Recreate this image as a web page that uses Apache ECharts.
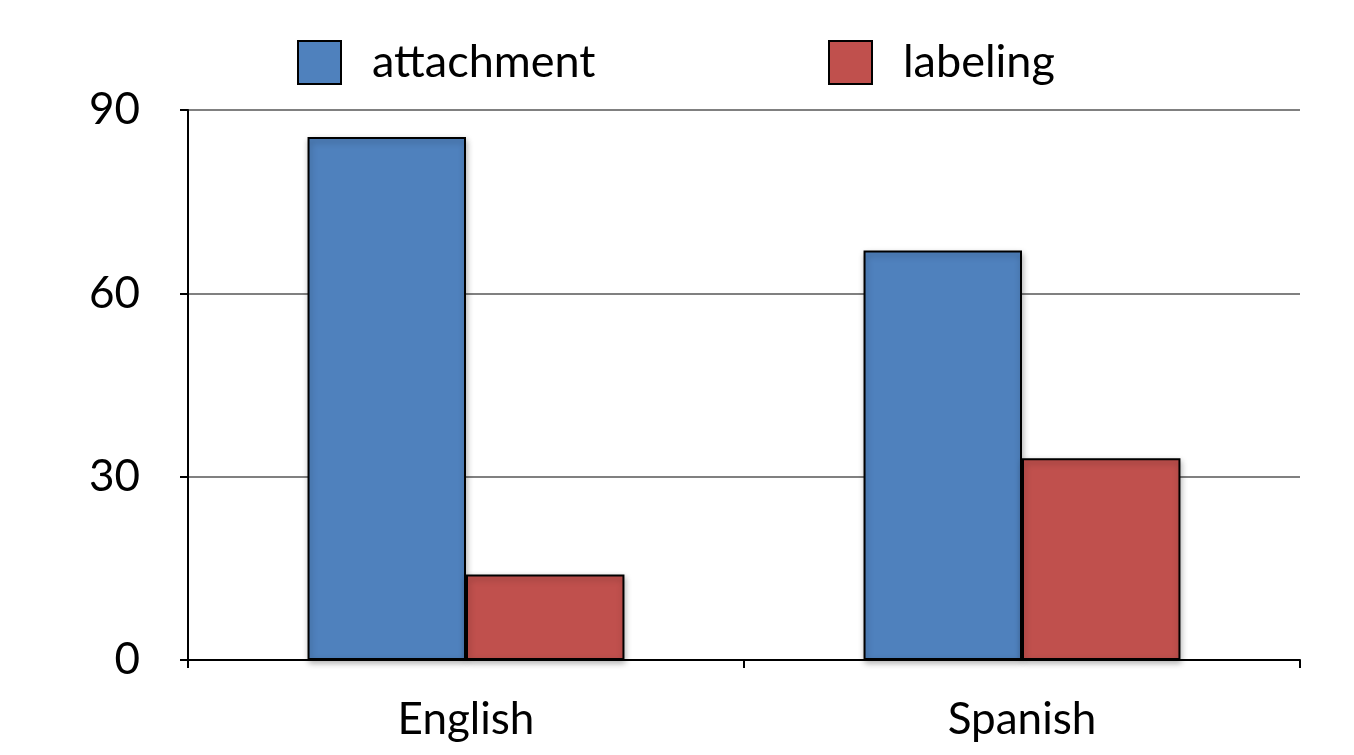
<!DOCTYPE html>
<html>
<head>
<meta charset="utf-8">
<script src="https://cdn.jsdelivr.net/npm/echarts@6/dist/echarts.min.js"></script>
<style>html,body{margin:0;padding:0;background:#fff}#c{width:1354px;height:755px}</style>
</head>
<body>
<div id="c"></div>
<script>
const categories = ['English', 'Spanish'];
const attachment = [85.6, 67];
const labeling = [14, 33];
const yTicks = [0, 30, 60, 90];

const FONT = 'Lato';
const chart = echarts.init(document.getElementById('c'), null, {renderer: 'canvas'});
const barShadow = {shadowBlur: 6, shadowColor: 'rgba(0,0,0,0.3)', shadowOffsetX: 1, shadowOffsetY: 3};
chart.setOption({
  animation: false,
  backgroundColor: '#fff',
  textStyle: {fontFamily: FONT},
  legend: [
    {left: 297, top: 40, padding: 0, icon: 'rect', itemWidth: 43, itemHeight: 43, data: ['attachment'],
     textStyle: {fontFamily: FONT, fontSize: 45, color: '#000', padding: [0, 0, 0, 26]},
     itemStyle: {borderColor: '#000', borderWidth: 2}},
    {left: 828, top: 40, padding: 0, icon: 'rect', itemWidth: 43, itemHeight: 43, data: ['labeling'],
     textStyle: {fontFamily: FONT, fontSize: 45, color: '#000', padding: [0, 0, 0, 26]},
     itemStyle: {borderColor: '#000', borderWidth: 2}}
  ],
  grid: {left: 188, right: 54, top: 110, bottom: 95, containLabel: false},
  xAxis: {
    type: 'category', data: categories,
    axisLine: {show: true, lineStyle: {color: '#000', width: 2}},
    axisTick: {show: true, length: 8, lineStyle: {color: '#000', width: 2}},
    axisLabel: {fontFamily: FONT, fontSize: 44, color: '#000', margin: 38}
  },
  yAxis: {
    type: 'value', min: 0, max: 90, interval: 30,
    axisLine: {show: true, lineStyle: {color: '#000', width: 2}},
    axisTick: {show: true, length: 8, lineStyle: {color: '#000', width: 2}},
    axisLabel: {fontFamily: FONT, fontSize: 44, color: '#000', margin: 48,
      formatter: v => yTicks.includes(v) ? String(v) : ''},
    splitLine: {show: true, lineStyle: {color: '#808080', width: 2}}
  },
  series: [
    {name: 'attachment', type: 'bar', data: attachment, barGap: '0%', barCategoryGap: '43%',
     itemStyle: Object.assign({color: '#4F81BD', borderColor: '#000', borderWidth: 2}, barShadow)},
    {name: 'labeling', type: 'bar', data: labeling,
     itemStyle: Object.assign({color: '#C0504D', borderColor: '#000', borderWidth: 2}, barShadow)}
  ]
});
</script>
</body>
</html>
